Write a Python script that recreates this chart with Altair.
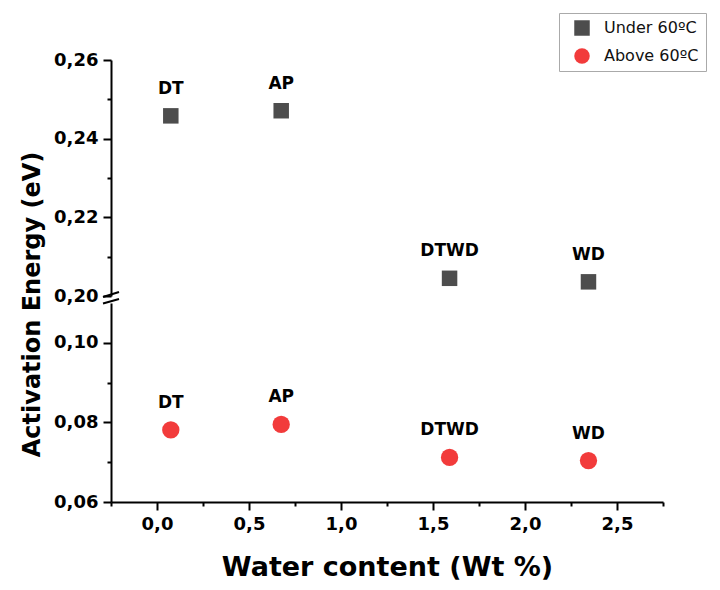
import altair as alt
import pandas as pd

# ---- data ----
samples = ["DT", "AP", "DTWD", "WD"]
water_content = [0.075, 0.675, 1.59, 2.345]
energy_under = [0.2458, 0.2471, 0.2045, 0.2036]
energy_above = [0.0781, 0.0795, 0.0712, 0.0704]
series_names = ["Under 60ºC", "Above 60ºC"]

x_tick_values = [-0.25, 0.0, 0.25, 0.5, 0.75, 1.0, 1.25, 1.5, 1.75, 2.0, 2.25, 2.5, 2.75]
upper_tick_values = [0.20, 0.21, 0.22, 0.23, 0.24, 0.25, 0.26]
lower_tick_values = [0.06, 0.07, 0.08, 0.09, 0.10]
x_domain = [-0.25, 2.75]
upper_domain = [0.20, 0.26]
lower_domain = [0.06, 0.11]

df_up = pd.DataFrame({"water": water_content, "ea": energy_under,
                      "label": samples, "series": series_names[0]})
df_lo = pd.DataFrame({"water": water_content, "ea": energy_above,
                      "label": samples, "series": series_names[1]})
df_one = pd.DataFrame({"k": [0]})

FONT = "DejaVu Sans"
W, H_UP, H_LO = 552, 236, 199

color_scale = alt.Scale(domain=series_names, range=["#4d4d4d", "#f23b3b"])
shape_scale = alt.Scale(domain=series_names, range=["square", "circle"])
legend = alt.Legend(title=None, orient="none", legendX=448, legendY=-47,
                    symbolSize=240, labelFont=FONT, labelFontSize=16,
                    labelColor="#111111", labelFontWeight="normal",
                    strokeColor="#aaaaaa", padding=7, rowPadding=12,
                    symbolOffset=8, labelOffset=14, symbolStrokeWidth=0)

x_scale = alt.Scale(domain=x_domain, nice=False, zero=False)

x_axis = alt.Axis(
    values=x_tick_values,
    labelExpr="round(datum.value*4) % 2 == 0 ? replace(format(datum.value, '.1f'), '.', ',') : ''",
    tickSize={"condition": {"test": "round(datum.value*4) % 2 != 0", "value": 4}, "value": 8},
    title="Water content (Wt %)", titleFontSize=27, titlePadding=21,
    labelPadding=5, labelOverlap=False, labelFlush=False,
)

y_label_expr = "round(datum.value*100) % 2 == 0 ? replace(format(datum.value, '.2f'), '.', ',') : ''"
y_tick_size = {"condition": {"test": "round(datum.value*100) % 2 != 0", "value": 4}, "value": 8}

y_axis_up = alt.Axis(values=upper_tick_values, labelExpr=y_label_expr,
                     tickSize=y_tick_size, labelOverlap=False, labelFlush=False,
                     labelPadding=5, title="Activation Energy (eV)",
                     titleFontSize=24, titlePadding=9, titleY=244)
y_axis_lo = alt.Axis(values=lower_tick_values, labelExpr=y_label_expr,
                     tickSize=y_tick_size, labelOverlap=False, labelFlush=False,
                     labelPadding=5, title=None)


def panel(df, domain, axis, height, show_x, size, break_at_bottom):
    xenc = alt.X("water:Q", scale=x_scale, axis=x_axis if show_x else None)
    yenc = alt.Y("ea:Q", scale=alt.Scale(domain=domain, nice=False, zero=False), axis=axis)
    pts = alt.Chart(df).mark_point(filled=True, opacity=1, size=size).encode(
        x=xenc, y=yenc,
        color=alt.Color("series:N", scale=color_scale, legend=legend),
        shape=alt.Shape("series:N", scale=shape_scale, legend=legend),
    )
    txt = alt.Chart(df).mark_text(font=FONT, fontWeight="bold", fontSize=17,
                                  dy=-27, color="black").encode(
        x=xenc, y=yenc, text="label:N")
    if break_at_bottom:
        y0, y1 = height + 1, height - 4
    else:
        y0, y1 = 0.5, -4
    brk = alt.Chart(df_one).mark_rule(color="black", strokeWidth=2).encode(
        x=alt.value(-8), x2=alt.value(8), y=alt.value(y0), y2=alt.value(y1))
    return alt.layer(pts, txt, brk).properties(width=W, height=height)


upper = panel(df_up, upper_domain, y_axis_up, H_UP, False, 240, True)
lower = panel(df_lo, lower_domain, y_axis_lo, H_LO, True, 300, False)

chart = (
    alt.vconcat(upper, lower, spacing=7, bounds="flush")
    .resolve_scale(y="independent", x="shared", color="shared", shape="shared")
    .properties(padding={"left": 12, "top": 4, "right": 0, "bottom": 0})
    .configure_view(stroke=None)
    .configure_axis(domainColor="black", domainWidth=2, tickColor="black",
                    tickWidth=2, labelColor="black", labelFont=FONT,
                    labelFontSize=18, labelFontWeight="bold", titleFont=FONT,
                    titleFontWeight="bold", titleColor="black", grid=False)
)

chart.save("out.html", embed_options={"renderer": "svg", "actions": False})
